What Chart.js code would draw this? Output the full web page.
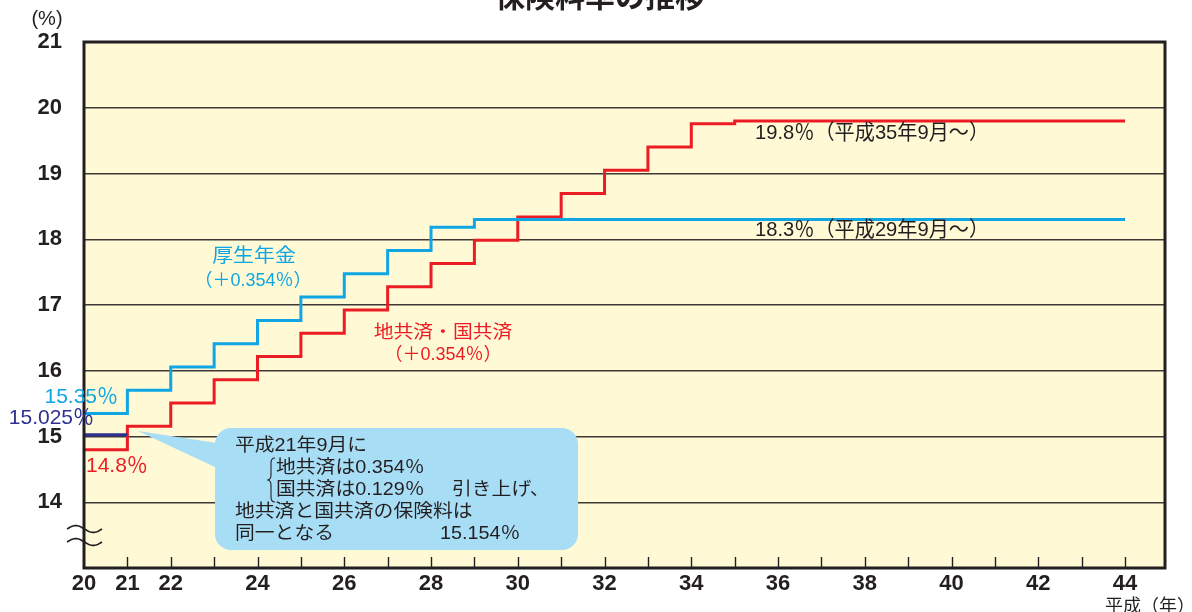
<!DOCTYPE html>
<html>
<head>
<meta charset="utf-8">
<script src="https://cdn.jsdelivr.net/npm/chart.js@4.4.1/dist/chart.umd.min.js"></script>
<style>
html,body{margin:0;padding:0;background:#fff;}
#wrap{width:1192px;height:612px;position:relative;}
</style>
</head>
<body>
<div id="wrap"><canvas id="c" width="1192" height="612"></canvas></div>
<script>
// ---- data ----
const kouseiYears = [20, 21, 22, 23, 24, 25, 26, 27, 28, 29, 44];
const kouseiRates = [15.35, 15.704, 16.058, 16.412, 16.766, 17.12, 17.474, 17.828, 18.182, 18.3, 18.3];
const chikyoYears = [20, 21, 22, 23, 24, 25, 26, 27, 28, 29, 30, 31, 32, 33, 34, 35, 44];
const chikyoRates = [14.8, 15.154, 15.508, 15.862, 16.216, 16.57, 16.924, 17.278, 17.632, 17.986, 18.34, 18.694, 19.048, 19.402, 19.756, 19.8, 19.8];
const kokkyoYears = [20, 21];
const kokkyoRates = [15.025, 15.025];
const yTicks = [13, 14, 15, 16, 17, 18, 19, 20, 21];
const xTicks = [20,21,22,23,24,25,26,27,28,29,30,31,32,33,34,35,36,37,38,39,40,41,42,43,44];
const xLabelled = [20, 21, 22, 24, 26, 28, 30, 32, 34, 36, 38, 40, 42, 44];

const C_BLUE = '#0fa6e3';
const C_RED = '#ec1c24';
const C_NAVY = '#2e3192';
const C_INK = '#231f20';
const JP = '"Noto Sans CJK JP", "Noto Sans", sans-serif';
const MIX = '"Liberation Sans", "Noto Sans CJK JP", sans-serif';
const NUM = '"Liberation Sans", Arial, sans-serif';

const pts = (xs, ys) => xs.map((x, i) => ({x: x, y: ys[i]}));

const deco = {
  id: 'deco',
  beforeDraw(chart) {
    const {ctx, chartArea: a} = chart;
    ctx.save();
    ctx.fillStyle = '#fff9d6';
    ctx.fillRect(a.left, a.top, a.right - a.left, a.bottom - a.top);
    ctx.restore();
  },
  afterDatasetsDraw(chart) {
    const {ctx, chartArea: a, scales} = chart;
    const xs = scales.x;
    ctx.save();
    // callout
    const bx = 215, by = 428, bw = 363, bh = 122, r = 16;
    ctx.fillStyle = '#a8ddf6';
    ctx.beginPath();
    ctx.moveTo(138, 431);
    ctx.lineTo(bx + 2, 443);
    ctx.lineTo(bx + 2, 468);
    ctx.closePath();
    ctx.fill();
    ctx.beginPath();
    ctx.roundRect(bx, by, bw, bh, r);
    ctx.fill();

    // frame
    ctx.strokeStyle = C_INK;
    ctx.lineWidth = 3;
    ctx.strokeRect(a.left, a.top, a.right - a.left, a.bottom - a.top);

    // inward x ticks
    ctx.lineWidth = 1.4;
    xTicks.forEach(v => {
      if (v === 20) return;
      const px = Math.round(xs.getPixelForValue(v)) + 0.5;
      ctx.beginPath();
      ctx.moveTo(px, a.bottom - 11);
      ctx.lineTo(px, a.bottom);
      ctx.stroke();
    });

    // axis break marks
    ctx.lineWidth = 1.6;
    [529, 542].forEach(cy => {
      ctx.beginPath();
      for (let i = 0; i <= 40; i++) {
        const t = i / 40;
        const x = 67 + 35 * t;
        const y = cy - 3.4 * Math.sin(t * 2 * Math.PI);
        if (i === 0) ctx.moveTo(x, y); else ctx.lineTo(x, y);
      }
      ctx.stroke();
    });

    // texts
    const txt = (s, x, y, color, size, align, font, sx, weight) => {
      ctx.save();
      ctx.fillStyle = color;
      ctx.font = (weight || 'normal') + ' ' + size + 'px ' + (font || MIX);
      ctx.textAlign = align || 'left';
      ctx.textBaseline = 'middle';
      ctx.translate(x, y);
      ctx.scale(sx || 1, 1);
      ctx.fillText(s, 0, 0);
      ctx.restore();
    };
    // title (cut at top)
    ctx.fillStyle = C_INK;
    ctx.font = 'bold 30px ' + JP;
    ctx.textAlign = 'center';
    ctx.textBaseline = 'alphabetic';
    ctx.fillText('保険料率の推移', 600, 7);

    txt('(%)', 47, 19, C_INK, 20, 'center', NUM);
    txt('平成（年）', 1105, 605, C_INK, 18, 'left', JP);

    txt('厚生年金', 254, 255, C_BLUE, 19, 'center', JP, 1.1);
    txt('（＋0.354％）', 253, 281, C_BLUE, 18, 'center', MIX);
    txt('地共済・国共済', 443, 331, C_RED, 18, 'center', JP, 1.1);
    txt('（＋0.354％）', 443, 355, C_RED, 18, 'center', MIX);

    txt('15.35％', 118, 397, C_BLUE, 21, 'right');
    txt('15.025％', 94, 418, C_NAVY, 21, 'right');
    txt('14.8％', 86, 466, C_RED, 21, 'left');

    txt('19.8％（平成35年9月～）', 755, 133, C_INK, 21, 'left', MIX, 0.96);
    txt('18.3％（平成29年9月～）', 755, 230, C_INK, 21, 'left', MIX, 0.96);

    // callout text
    const cs = 18, cx = 1.1;
    txt('平成21年9月に', 235, 446, C_INK, cs, 'left', MIX, cx);
    txt('地共済は0.354％', 276, 468, C_INK, cs, 'left', MIX, cx);
    txt('国共済は0.129％', 276, 490, C_INK, cs, 'left', MIX, cx);
    txt('引き上げ、', 452, 490, C_INK, cs, 'left', MIX, cx);
    txt('地共済と国共済の保険料は', 235, 512, C_INK, cs, 'left', MIX, cx);
    txt('同一となる', 235, 534, C_INK, cs, 'left', MIX, cx);
    txt('15.154％', 440, 534, C_INK, cs, 'left', MIX, cx);
    // brace
    ctx.strokeStyle = C_INK;
    ctx.lineWidth = 1.1;
    ctx.beginPath();
    ctx.moveTo(275, 458);
    ctx.quadraticCurveTo(271, 458, 271, 463);
    ctx.lineTo(271, 475);
    ctx.quadraticCurveTo(271, 479, 268, 480);
    ctx.quadraticCurveTo(271, 481, 271, 485);
    ctx.lineTo(271, 497);
    ctx.quadraticCurveTo(271, 502, 275, 502);
    ctx.stroke();
    ctx.restore();
  }
};

const lineDs = (label, xs, ys, color) => ({
  label: label,
  data: pts(xs, ys),
  borderColor: color,
  backgroundColor: color,
  borderWidth: 3,
  stepped: true,
  pointRadius: 0,
  fill: false,
  tension: 0,
  borderJoinStyle: 'miter',
  borderCapStyle: 'butt'
});

new Chart(document.getElementById('c'), {
  type: 'line',
  data: {
    datasets: [
      lineDs('国共済', kokkyoYears, kokkyoRates, C_NAVY),
      lineDs('厚生年金', kouseiYears, kouseiRates, C_BLUE),
      lineDs('地共済', chikyoYears, chikyoRates, C_RED)
    ]
  },
  options: {
    responsive: false,
    animation: false,
    devicePixelRatio: 1,
    layout: {padding: {top: 42, right: 27, left: 0, bottom: 0}},
    plugins: {legend: {display: false}, tooltip: {enabled: false}, title: {display: false}},
    scales: {
      x: {
        type: 'linear',
        min: 20,
        max: 44.92,
        afterBuildTicks: s => { s.ticks = xTicks.map(v => ({value: v})); },
        afterFit: s => { s.height = 44; },
        grid: {display: false, drawTicks: false},
        border: {display: false},
        ticks: {
          autoSkip: false,
          maxRotation: 0,
          padding: 3,
          color: C_INK,
          font: {family: NUM, size: 22, weight: 'bold'},
          callback: v => xLabelled.includes(v) ? String(v) : ''
        }
      },
      y: {
        type: 'linear',
        min: 13,
        max: 21,
        afterBuildTicks: s => { s.ticks = yTicks.map(v => ({value: v})); },
        afterFit: s => { s.width = 84; },
        grid: {color: '#3d3a36', lineWidth: 1.5, drawTicks: false},
        border: {display: false},
        ticks: {
          padding: 22,
          color: C_INK,
          font: {family: NUM, size: 22, weight: 'bold'},
          callback: v => v === 13 ? '' : String(v)
        }
      }
    }
  },
  plugins: [deco]
});
</script>
</body>
</html>
